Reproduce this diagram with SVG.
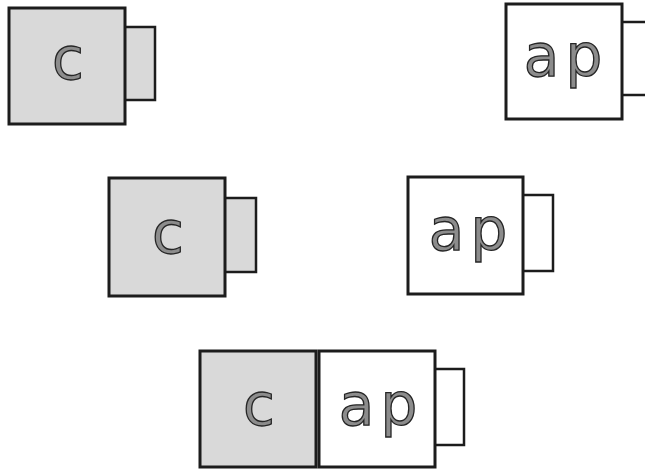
<svg xmlns="http://www.w3.org/2000/svg" width="645" height="469" viewBox="0 0 645 469">
<style>
.box{stroke:#1c1c1c;stroke-width:3;}
.tab{stroke:#1c1c1c;stroke-width:2.5;}
.g{fill:#d9d9d9;}
.w{fill:#ffffff;}
.t{font-family:"DejaVu Sans",sans-serif;font-size:58px;fill:#8c8c8c;stroke:#262626;stroke-width:1.3;text-anchor:middle;}
</style>
<rect width="645" height="469" fill="#ffffff"/>
<g id="c1">
<rect class="tab g" x="120" y="27" width="35" height="73"/>
<rect class="box g" x="9" y="8" width="116" height="116"/>
<text class="t" x="68" y="79">c</text>
</g>
<g id="ap1">
<rect class="tab w" x="617" y="22" width="45" height="73"/>
<rect class="box w" x="506" y="4" width="116" height="115"/>
<text class="t" x="541.5" y="76">a</text>
<text class="t" x="584" y="76">p</text>
</g>
<g id="c2">
<rect class="tab g" x="220" y="198" width="36" height="74"/>
<rect class="box g" x="109" y="178" width="116" height="118"/>
<text class="t" x="168" y="253">c</text>
</g>
<g id="ap2">
<rect class="tab w" x="518" y="195" width="35" height="76"/>
<rect class="box w" x="408" y="177" width="115" height="117"/>
<text class="t" x="446.5" y="250">a</text>
<text class="t" x="489" y="250">p</text>
</g>
<g id="c3">
<rect class="box g" x="200" y="351" width="116" height="116"/>
<text class="t" x="259" y="425">c</text>
</g>
<g id="ap3">
<rect class="tab w" x="430" y="369" width="34" height="76"/>
<rect class="box w" x="319" y="351" width="116" height="116"/>
<text class="t" x="356.5" y="425">a</text>
<text class="t" x="399" y="425">p</text>
</g>
<g id="connectors"></g>
</svg>
